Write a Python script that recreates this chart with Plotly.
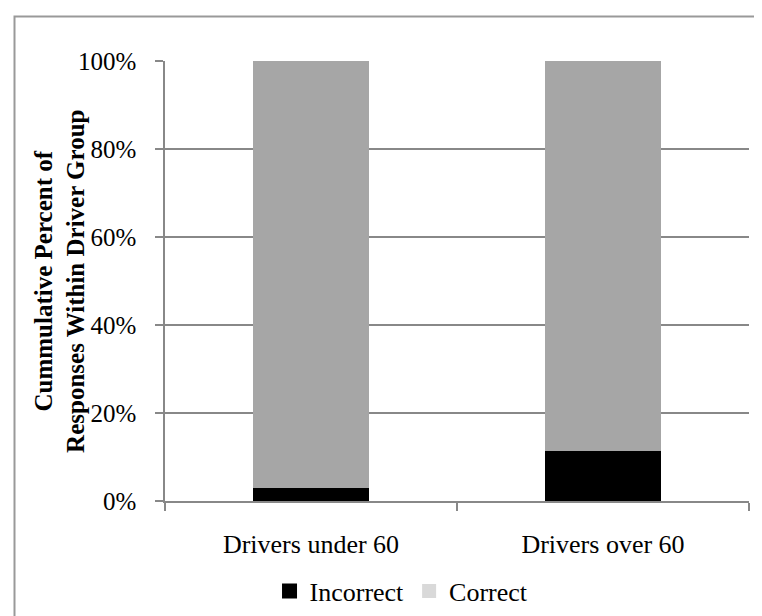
import plotly.graph_objects as go

categories = ["Drivers under 60", "Drivers over 60"]
incorrect = [3.0, 11.4]
correct = [97.0, 88.6]
series_names = ["Incorrect", "Correct"]
tick_vals = [0, 20, 40, 60, 80, 100]
tick_text = ["0%", "20%", "40%", "60%", "80%", "100%"]

FONT = "Liberation Serif, Times New Roman, serif"
GRID = "#888888"

fig = go.Figure()
fig.add_trace(go.Bar(x=categories, y=incorrect, name=series_names[0],
                     marker=dict(color="#000000", line=dict(width=0)), showlegend=False))
fig.add_trace(go.Bar(x=categories, y=correct, name=series_names[1],
                     marker=dict(color="#a6a6a6", line=dict(width=0)), showlegend=False))
# legend entries (legend swatch for Correct is lighter than the bar)
fig.add_trace(go.Scatter(x=[None], y=[None], mode="markers", name=series_names[0],
                         marker=dict(symbol="square", size=15, color="#000000")))
fig.add_trace(go.Scatter(x=[None], y=[None], mode="markers", name=series_names[1],
                         marker=dict(symbol="square", size=14, color="#d9d9d9")))

fig.update_layout(
    width=762, height=616,
    margin=dict(l=157, r=21, t=53, b=123, autoexpand=False),
    paper_bgcolor="white", plot_bgcolor="white",
    barmode="stack", bargap=0.6,
    font=dict(family=FONT, size=26, color="black"),
    legend=dict(orientation="h", x=0.405, xanchor="center", y=-0.205, yanchor="middle",
                font=dict(size=26), traceorder="normal", bgcolor="rgba(0,0,0,0)"),
    xaxis=dict(showline=True, linecolor=GRID, linewidth=1.5, ticks="outside",
               tickson="boundaries", ticklen=8, tickcolor=GRID, tickwidth=1.5,
               ticklabelstandoff=19, automargin=False,
               tickfont=dict(size=26)),
    yaxis=dict(range=[0, 100], tickvals=tick_vals, ticktext=tick_text,
               showline=True, linecolor=GRID, linewidth=1.5, ticks="outside",
               ticklen=8, tickcolor=GRID, tickwidth=1.5, showgrid=True,
               gridcolor=GRID, gridwidth=1.5, zeroline=False, ticklabelstandoff=14,
               automargin=False, tickfont=dict(size=25)),
    annotations=[dict(text="<b>Cummulative Percent of<br>Responses Within Driver Group</b>",
                      xref="paper", yref="paper", x=-0.18, y=0.5, xanchor="center",
                      yanchor="middle", textangle=-90, showarrow=False,
                      font=dict(family=FONT, size=25, color="black"))],
    shapes=[dict(type="rect", xref="paper", yref="paper",
                 x0=-0.2577, x1=1.2, y0=-0.4, y1=1.101,
                 line=dict(color="#999999", width=2), fillcolor="rgba(0,0,0,0)")],
)

fig.write_html("out.html")
